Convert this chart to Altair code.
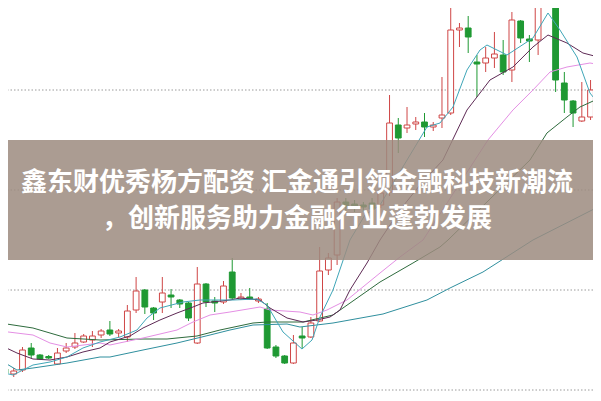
import altair as alt
import pandas as pd

# ---- candle data (price units) ----
opens = [10.84, 10.64, 10.80, 11.68, 11.40, 11.34, 11.04, 11.56, 11.72, 11.92,
         12.00, 12.20, 12.40, 12.28, 12.12, 13.20, 14.00, 13.28, 13.52, 13.80,
         13.60, 13.48, 11.88, 14.24, 13.56, 13.52, 14.72, 13.64, 13.72, 13.56,
         13.24, 11.72, 11.36, 11.08, 12.16, 12.12, 12.76, 14.80, 15.40, 17.52,
         17.44, 17.40, 17.48, 17.40, 17.92, 20.60, 20.48, 20.64, 20.72, 20.52,
         20.88, 21.08, 24.40, 24.48, 23.12, 23.08, 23.28, 23.40, 22.80, 24.76,
         24.04, 24.00, 25.48, 25.80, 22.28, 21.56, 20.76, 20.92, 22.00]
closes = [10.68, 10.76, 11.60, 11.40, 11.24, 11.28, 11.48, 11.68, 11.88, 12.16,
          12.16, 12.36, 12.24, 12.36, 13.16, 13.96, 13.32, 13.08, 13.88, 13.72,
          13.44, 12.88, 14.24, 13.52, 13.48, 14.16, 13.68, 13.72, 13.64, 13.64,
          11.68, 11.36, 11.08, 11.88, 12.08, 12.68, 14.76, 15.28, 17.52, 17.36,
          17.36, 17.32, 17.24, 17.88, 20.68, 20.08, 20.60, 20.72, 20.52, 20.60,
          21.00, 24.40, 24.48, 24.12, 23.04, 23.28, 23.44, 22.72, 24.80, 24.08,
          23.96, 25.48, 25.84, 22.40, 21.60, 21.08, 20.92, 22.00, 21.52]
highs = [10.96, 10.88, 11.72, 11.88, 11.44, 11.40, 11.68, 11.88, 12.28, 12.24,
         12.36, 12.44, 12.76, 12.44, 13.40, 14.52, 14.04, 13.32, 14.52, 14.04,
         13.64, 13.52, 14.92, 14.28, 13.72, 14.36, 15.28, 13.88, 14.08, 13.72,
         13.48, 11.80, 11.40, 12.20, 12.52, 12.92, 15.72, 15.48, 17.68, 17.68,
         17.60, 17.52, 17.68, 18.08, 21.80, 20.88, 21.32, 20.92, 21.08, 20.72,
         22.52, 25.28, 24.68, 24.96, 23.40, 23.72, 24.32, 24.00, 25.12, 24.80,
         24.20, 25.72, 26.20, 26.00, 22.72, 21.60, 22.32, 22.40, 22.20]
lows = [10.56, 10.52, 10.72, 11.28, 11.20, 11.24, 11.00, 11.48, 11.64, 11.88,
        11.72, 12.08, 12.16, 12.12, 11.92, 13.08, 13.04, 12.80, 13.08, 13.28,
        13.28, 12.76, 11.84, 13.32, 13.12, 13.44, 13.64, 13.60, 13.60, 13.48,
        11.64, 11.28, 11.04, 11.04, 11.68, 12.08, 12.72, 14.60, 15.00, 17.08,
        17.12, 17.12, 17.08, 17.28, 17.76, 19.48, 20.28, 20.40, 20.12, 20.36,
        20.48, 21.00, 23.72, 23.48, 21.72, 22.72, 22.88, 22.60, 22.32, 23.88,
        23.12, 23.40, 25.36, 21.92, 21.08, 20.52, 20.72, 20.80, 21.20]

# ---- moving-average lines (candle index, price) ----
ma5_i = [-0.57, 0.92, 2.06, 3.2, 5.15, 7.09, 8.92, 10.87, 13.16, 15.1, 16.25, 17.73,
         20.37, 22.31, 26.09, 28.83, 29.98, 31.81, 33.98, 35.13, 36.04, 37.53, 39.47,
         41.19, 42.91, 44.62, 46.0, 48.28, 49.77, 51.26, 52.86, 54.35, 55.15, 57.44,
         60.41, 62.13, 63.5, 65.45, 66.93, 68.3]
ma5_v = [10.72, 10.6, 10.8, 11.0, 11.12, 11.32, 11.68, 11.92, 12.12, 12.4, 12.88, 13.28,
         13.52, 13.6, 13.6, 13.64, 13.4, 12.32, 11.64, 12.0, 12.92, 14.0, 16.0,
         17.0, 17.4, 18.4, 19.2, 20.52, 20.68, 21.32, 22.8, 23.6, 23.8, 23.4,
         24.08, 25.08, 24.4, 23.32, 21.88, 21.28]
ma10_i = [-0.57, 1.37, 3.2, 5.15, 7.09, 8.92, 10.87, 12.01, 14.3, 15.79, 17.73, 19.68,
          21.51, 22.65, 25.74, 26.89, 29.18, 30.32, 32.27, 34.1, 35.7, 37.19, 38.33,
          39.47, 41.42, 42.91, 45.19, 47.48, 50.11, 52.86, 54.0, 55.49, 58.12, 60.41,
          62.13, 64.3, 66.13, 68.3]
ma10_v = [11.8, 11.48, 11.24, 11.2, 11.32, 11.52, 11.68, 11.92, 12.16, 12.48, 12.8, 13.08,
          13.32, 13.48, 13.6, 13.68, 13.6, 13.28, 12.88, 12.72, 12.8, 12.92, 13.2,
          14.0, 15.08, 16.0, 17.2, 18.2, 19.2, 21.2, 21.72, 22.4, 22.92, 23.72,
          24.2, 23.88, 23.48, 23.28]
ma20_i = [-0.57, 3.2, 5.15, 7.09, 10.87, 12.01, 15.79, 19.68, 21.51, 23.46, 25.74,
          29.18, 30.32, 33.75, 35.24, 36.84, 39.13, 42.91, 45.19, 47.83, 55.26, 58.12,
          60.41, 62.36, 64.3, 66.93, 68.3]
ma20_v = [12.36, 12.2, 11.88, 11.72, 11.88, 11.8, 12.08, 12.4, 12.72, 13.0, 13.12,
          13.32, 13.2, 13.12, 13.0, 13.2, 13.6, 14.68, 15.32, 16.0, 20.0, 21.2,
          22.0, 22.72, 22.92, 23.08, 23.0]
ma30_i = [-0.57, 3.2, 7.09, 10.87, 15.79, 18.54, 21.97, 24.6, 28.38, 29.98, 34.1,
          37.53, 42.91, 46.68, 49.77, 50.69, 60.07, 62.01, 64.3, 65.79, 68.3]
ma30_v = [12.68, 12.48, 12.08, 12.0, 12.04, 12.04, 12.16, 12.4, 12.68, 12.72, 12.72,
          13.0, 14.32, 15.08, 15.72, 16.0, 19.2, 20.28, 20.92, 21.32, 21.72]
ma60_i = [-0.57, 1.37, 3.2, 7.09, 10.87, 12.01, 15.79, 19.68, 23.46, 25.74, 28.38,
          32.27, 33.75, 37.53, 43.25, 48.28, 50.92, 54.69, 60.41, 68.3]
ma60_v = [11.2, 10.8, 10.88, 11.08, 11.32, 11.32, 11.6, 11.88, 12.2, 12.4, 12.6,
          12.64, 12.52, 12.68, 13.04, 13.6, 14.08, 14.72, 16.0, 17.4]

grid_values = [10, 14, 18, 22]
title_lines = ["鑫东财优秀杨方配资 汇金通引领金融科技新潮流",
               "，创新服务助力金融行业蓬勃发展"]

RED = "#cf4646"
GREEN = "#1f9933"
W, H = 585, 393
xdom = [0.343, 67.28]
ydom = [9.56, 25.28]

df = pd.DataFrame({"i": list(range(len(opens))), "open": opens, "close": closes,
                   "high": highs, "low": lows})
df["dir"] = ["up" if c >= o else "down" for o, c in zip(opens, closes)]
df["xa"] = df["i"] - 0.33
df["xb"] = df["i"] + 0.33

xs = alt.Scale(domain=xdom, nice=False, zero=False)
ys = alt.Scale(domain=ydom, nice=False, zero=False)
col = alt.Scale(domain=["up", "down"], range=[RED, GREEN])
fillsc = alt.Scale(domain=["up", "down"], range=["#ffffff", GREEN])

grid = alt.Chart(pd.DataFrame({"g": grid_values})).mark_rule(
    color="#9a9a9a", strokeDash=[1.5, 2], strokeWidth=1
).encode(y=alt.Y("g:Q", scale=ys, axis=None))

base = alt.Chart(df)
wick = base.mark_rule(strokeWidth=1, clip=True).encode(
    x=alt.X("i:Q", scale=xs, axis=None),
    y=alt.Y("low:Q", scale=ys, axis=None), y2="high:Q",
    color=alt.Color("dir:N", scale=col, legend=None))
body = base.mark_rect(strokeWidth=1, clip=True).encode(
    x=alt.X("xa:Q", scale=xs, axis=None), x2="xb:Q",
    y=alt.Y("open:Q", scale=ys, axis=None), y2="close:Q",
    stroke=alt.Stroke("dir:N", scale=col, legend=None),
    fill=alt.Fill("dir:N", scale=fillsc, legend=None))

def ma_line(ii, vv, color):
    d = pd.DataFrame({"i": ii, "v": vv})
    return alt.Chart(d).mark_line(color=color, strokeWidth=1, clip=True).encode(
        x=alt.X("i:Q", scale=xs, axis=None), y=alt.Y("v:Q", scale=ys, axis=None))

lines = [ma_line(ma60_i, ma60_v, "#2f8f9e"),
         ma_line(ma30_i, ma30_v, "#2e6b3d"),
         ma_line(ma20_i, ma20_v, "#e48fe4"),
         ma_line(ma10_i, ma10_v, "#5e2a55"),
         ma_line(ma5_i, ma5_v, "#3fa6b8")]

banner = alt.Chart(pd.DataFrame({"a": [0]})).mark_rect(
    color="#9c8b7f", opacity=0.85
).encode(x=alt.value(0), x2=alt.value(W), y=alt.value(132), y2=alt.value(252))

tdf = pd.DataFrame({"t": title_lines, "row": [0, 1]})
text = alt.Chart(tdf).mark_text(
    font="Noto Sans CJK SC", fontWeight="bold", fontSize=26, color="#ffffff",
    align="center", baseline="middle"
).encode(x=alt.value(289),
         y=alt.Y("row:Q", scale=alt.Scale(domain=[0, 1], range=[174.5, 210.5]), axis=None),
         text="t:N")

chart = alt.layer(grid, wick, body, *lines, banner, text).resolve_scale(
    y="independent"
).properties(width=W, height=H, padding=0, autosize="none").configure_view(stroke=None)

chart.save("out.html", embed_options={"renderer": "svg", "actions": False})
